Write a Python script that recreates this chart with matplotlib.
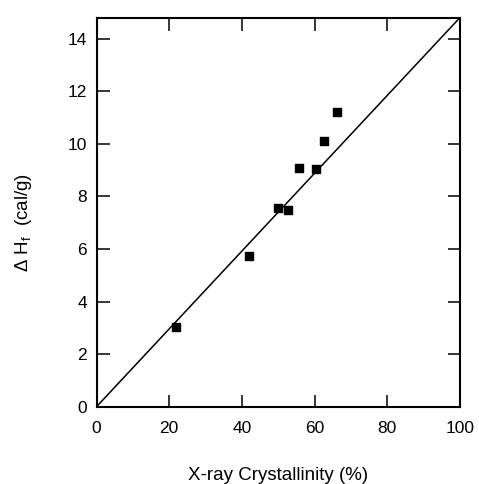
import matplotlib
matplotlib.use("Agg")
import matplotlib.pyplot as plt
import numpy as np

plt.rcParams['font.family'] = ['Liberation Sans', 'DejaVu Sans']
plt.rcParams['mathtext.fontset'] = 'custom'
plt.rcParams['mathtext.rm'] = 'Liberation Sans'

crystallinity = [21.8, 41.9, 49.8, 52.8, 55.7, 60.4, 62.5, 66.2]
delta_hf = [3.03, 5.73, 7.56, 7.48, 9.07, 9.05, 10.11, 11.22]
line_x = [0, 100]
line_y = [0, 14.8]
xticks = [0, 20, 40, 60, 80, 100]
yticks = [0, 2, 4, 6, 8, 10, 12, 14]

fig = plt.figure(figsize=(4.79, 4.84), dpi=100)
ax = fig.add_axes([0.2015, 0.1597, 0.7589, 0.8041])
ax.plot(line_x, line_y, color='black', lw=1.1)
ax.scatter(crystallinity, delta_hf, marker='s', s=40, color='black', zorder=3, clip_on=False)
ax.set_xlim(0, 100)
ax.set_ylim(0, 14.8)
ax.set_xticks(xticks)
ax.set_yticks(yticks)
ax.tick_params(direction='in', length=9, width=1.1, top=True, right=True, labelsize=12.5)
ax.tick_params(axis='x', pad=10)
ax.tick_params(axis='y', pad=7)
for s in ax.spines.values():
    s.set_linewidth(1.5)
ax.set_xlabel('X-ray Crystallinity (%)', fontsize=13.5)
ax.set_ylabel(r'$\Delta$ H$_\mathregular{f}$  (cal/g)', fontsize=13.5)
ax.xaxis.set_label_coords(0.5, -0.155)
ax.yaxis.set_label_coords(-0.172, 0.474)
fig.savefig('out.png', dpi=100)
